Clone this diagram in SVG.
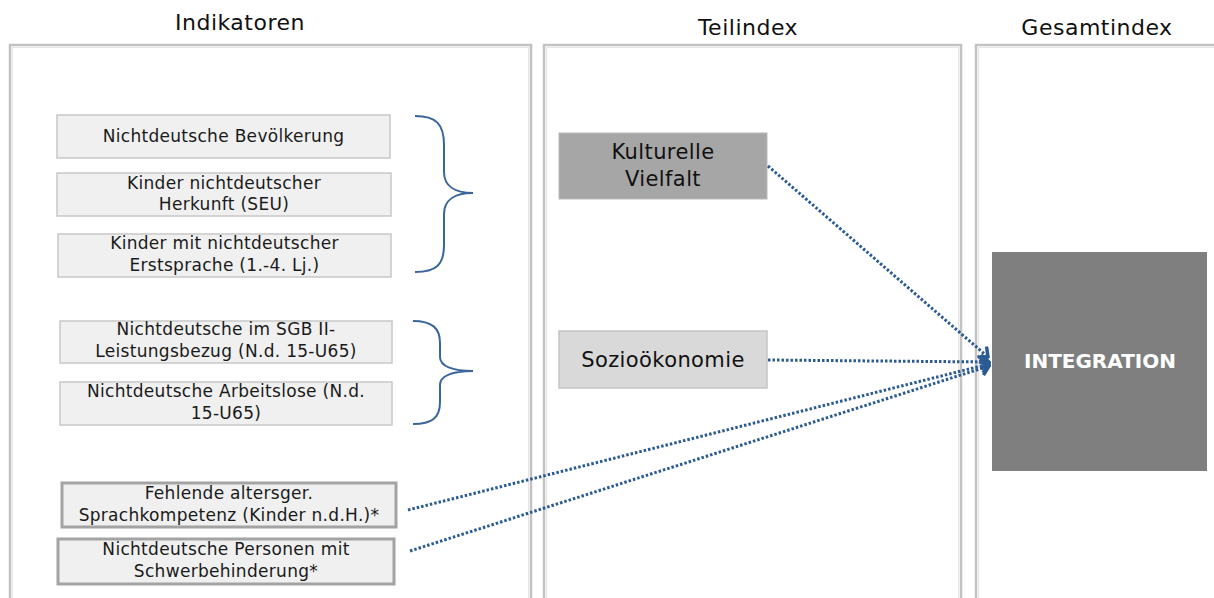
<svg xmlns="http://www.w3.org/2000/svg" width="1214" height="598" viewBox="0 0 1214 598">
<defs>
<style>
.title{font-family:"DejaVu Sans",sans-serif;font-size:22px;letter-spacing:0.5px;fill:#111;text-anchor:middle}
.panel{fill:#fff;stroke:#c2c2c2;stroke-width:2.5}
.panel-in{fill:none;stroke:#e6e6e6;stroke-width:1}
.ind{fill:#f0f0f0;stroke:#c8c8c8;stroke-width:1.5}
.ind2{fill:#f0f0f0;stroke:#a3a3a3;stroke-width:3}
.t{font-family:"DejaVu Sans",sans-serif;font-size:17px;letter-spacing:0.3px;fill:#1a1a1a;text-anchor:middle}
.t2{font-family:"DejaVu Sans",sans-serif;font-size:21px;letter-spacing:0.4px;fill:#111;text-anchor:middle}
.brace{fill:none;stroke:#3a6699;stroke-width:2}
.conn{fill:none;stroke:#2b5b92;stroke-width:3;stroke-dasharray:2.5 2}
</style>
<marker id="arr" viewBox="0 0 12 16" refX="10" refY="8" markerWidth="12" markerHeight="16" markerUnits="userSpaceOnUse" orient="auto">
<path d="M2,1 L10,8 L2,15" fill="none" stroke="#2b5b92" stroke-width="3.5"/>
</marker>
</defs>
<rect width="1214" height="598" fill="#fff"/>
<g id="panels">
<rect class="panel" x="10" y="45" width="521" height="570"/>
<rect class="panel-in" x="12.5" y="47.5" width="516" height="570"/>
<rect class="panel" x="544" y="45" width="417" height="570"/>
<rect class="panel-in" x="546.5" y="47.5" width="412" height="570"/>
<rect class="panel" x="976" y="45" width="260" height="570"/>
<rect class="panel-in" x="978.5" y="47.5" width="260" height="570"/>
</g>
<g id="titles">
<text class="title" x="240" y="30">Indikatoren</text>
<text class="title" x="748" y="35">Teilindex</text>
<text class="title" x="1097" y="35">Gesamtindex</text>
</g>
<g id="ind1"><rect class="ind" x="57" y="115" width="333" height="43"/><text class="t" x="223.5" y="142">Nichtdeutsche Bevölkerung</text></g>
<g id="ind2"><rect class="ind" x="57" y="173" width="334" height="43"/><text class="t" x="224" y="189">Kinder nichtdeutscher</text><text class="t" x="224" y="210">Herkunft (SEU)</text></g>
<g id="ind3"><rect class="ind" x="58" y="234" width="333" height="43"/><text class="t" x="224.5" y="249">Kinder mit nichtdeutscher</text><text class="t" x="224.5" y="271">Erstsprache (1.-4. Lj.)</text></g>
<g id="ind4"><rect class="ind" x="60" y="321" width="332" height="42"/><text class="t" x="226" y="335">Nichtdeutsche im SGB II-</text><text class="t" x="226" y="357">Leistungsbezug (N.d. 15-U65)</text></g>
<g id="ind5"><rect class="ind" x="60" y="382" width="332" height="43"/><text class="t" x="226" y="397">Nichtdeutsche Arbeitslose (N.d.</text><text class="t" x="226" y="419">15-U65)</text></g>
<g id="ind6"><rect class="ind2" x="62" y="483" width="334" height="44"/><text class="t" x="229" y="499">Fehlende altersger.</text><text class="t" x="229" y="521">Sprachkompetenz (Kinder n.d.H.)*</text></g>
<g id="ind7"><rect class="ind2" x="58" y="539" width="336" height="45"/><text class="t" x="226" y="555">Nichtdeutsche Personen mit</text><text class="t" x="226" y="577">Schwerbehinderung*</text></g>
<g id="brace1"><path class="brace" d="M415,116 C436,116 444,124 444,145 L444,172 C444,186 455,193 473,193 C455,193 444,200 444,214 L444,245 C444,265 436,272 415,272"/></g>
<g id="brace2"><path class="brace" d="M413,321 C432,321 440,328 440,343 L440,357 C440,366 452,371 473,371 C452,371 440,376 440,385 L440,402 C440,418 432,424 413,424"/></g>
<g id="kultur"><rect x="559" y="133" width="208" height="66" fill="#a6a6a6" stroke="#b8b8b8" stroke-width="1"/><text class="t2" x="663" y="159">Kulturelle</text><text class="t2" x="663" y="186">Vielfalt</text></g>
<g id="sozio"><rect x="559" y="331" width="208" height="57" fill="#d9d9d9" stroke="#c4c4c4" stroke-width="1.5"/><text class="t2" x="663" y="367">Sozioökonomie</text></g>
<g id="integration"><rect x="992" y="252" width="215" height="219" fill="#7f7f7f"/><text x="1100" y="368" font-family="DejaVu Sans,sans-serif" font-size="20" font-weight="bold" fill="#fff" text-anchor="middle">INTEGRATION</text></g>
<g id="connectors">
<path class="conn" d="M768,166 L988,357" marker-end="url(#arr)"/>
<path class="conn" d="M768,360 L989,362" marker-end="url(#arr)"/>
<path class="conn" d="M408,510 L989,364" marker-end="url(#arr)"/>
<path class="conn" d="M410,551 L989,366" marker-end="url(#arr)"/>
</g>
</svg>
